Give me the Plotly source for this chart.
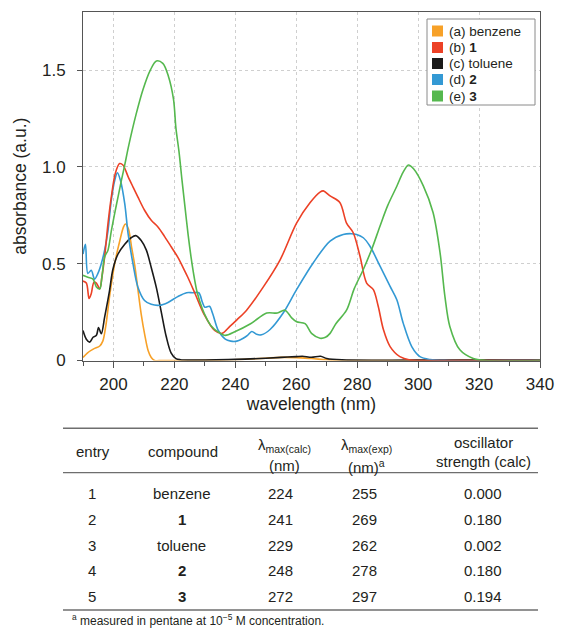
import plotly.graph_objects as go

# ---------------- data ----------------
benzene_wl = [190, 191.5, 193.5, 195.5, 196.5, 197.5, 198.8, 200.4, 202.1, 203.3, 203.9, 204.9, 206, 207,
              208, 209.1, 210.3, 211.4, 212.4, 213.5, 216, 225, 235, 245, 250, 255, 260, 265, 270, 275, 300, 340]
benzene_abs = [0.015, 0.04, 0.06, 0.075, 0.10, 0.18, 0.34, 0.50, 0.62, 0.69, 0.705, 0.68, 0.58, 0.49,
               0.37, 0.24, 0.13, 0.05, 0.015, 0.0, 0.0, 0.0, 0.002, 0.008, 0.012, 0.016, 0.015, 0.01, 0.004, 0.0, 0.0, 0.0]

cmpd1_wl = [190, 191.1, 192, 192.7, 193.6, 194.4, 195.5, 196.2, 197.1, 198.2, 199.3, 200.6, 202, 203.1, 204.8,
            206.4, 208, 210.2, 212.4, 214.6, 216.8, 219, 221.1, 223.3, 224.4, 226.8, 229.7, 233.2, 235.6, 238.2,
            240.5, 243.7, 249.2, 254.7, 260.1, 264.5, 267.8, 268.9, 271.1, 274.3, 276.5, 278.7, 280.9, 283.1,
            285.3, 286.9, 288.6, 290.8, 294, 297.3, 310, 340]
cmpd1_abs = [0.41, 0.40, 0.32, 0.345, 0.405, 0.40, 0.37, 0.43, 0.535, 0.707, 0.845, 0.966, 1.017, 1.01, 0.95,
             0.897, 0.845, 0.776, 0.724, 0.69, 0.64, 0.586, 0.534, 0.466, 0.43, 0.345, 0.24, 0.155, 0.14, 0.176,
             0.21, 0.26, 0.38, 0.52, 0.71, 0.815, 0.87, 0.876, 0.85, 0.816, 0.71, 0.66, 0.54, 0.40,
             0.366, 0.28, 0.16, 0.072, 0.02, 0.003, 0.0, 0.0]

toluene_wl = [190, 191.1, 192.2, 193.3, 194.4, 195.1, 196, 197.1, 198.7, 199.8, 201.5, 203.7, 205.8, 207.3,
              209.1, 210.8, 212.4, 214.1, 215.7, 217.3, 218.9, 220.5, 222, 225, 240, 250, 255, 260, 262, 265,
              268, 270, 275, 300, 340]
toluene_abs = [0.155, 0.11, 0.095, 0.12, 0.13, 0.17, 0.138, 0.224, 0.36, 0.47, 0.55, 0.60, 0.634, 0.645,
               0.62, 0.57, 0.48, 0.375, 0.25, 0.125, 0.04, 0.01, 0.004, 0.002, 0.006, 0.012, 0.016, 0.02, 0.022, 0.017,
               0.022, 0.01, 0.003, 0.002, 0.002]

cmpd2_wl = [190, 190.8, 191.6, 192.7, 193.8, 194.9, 196, 197.1, 198.2, 199.3, 200.4, 201.3, 202.3, 203.7,
            204.8, 206.4, 208, 210.2, 212.4, 215.1, 217.9, 221.1, 224, 226, 228, 229.2, 230, 231.5, 232.6,
            234.4, 236.7, 238.5, 240.5, 242.6, 244, 245.4, 247, 248.6, 251.4, 255.7, 260.1, 265.6, 271.1,
            275.4, 278, 279.8, 282, 284.2, 287.5, 290.8, 293, 295.1, 297.9, 300.6, 303.9, 310, 340]
cmpd2_abs = [0.55, 0.60, 0.45, 0.466, 0.42, 0.45, 0.50, 0.57, 0.67, 0.83, 0.93, 0.97, 0.93, 0.81,
             0.655, 0.50, 0.38, 0.31, 0.29, 0.285, 0.30, 0.33, 0.35, 0.35, 0.35, 0.30, 0.275, 0.28, 0.24,
             0.155, 0.11, 0.10, 0.10, 0.115, 0.13, 0.15, 0.135, 0.133, 0.16, 0.245, 0.366, 0.505, 0.617,
             0.651, 0.655, 0.651, 0.634, 0.59, 0.487, 0.383, 0.314, 0.193, 0.072, 0.02, 0.005, 0.0, 0.0]

cmpd3_wl = [190, 191.6, 193.3, 194.4, 195.5, 196.2, 197.1, 198.2, 199.3, 200.4, 201.5, 202.6, 203.7, 205,
            207.4, 209.7, 212.1, 214.1, 216.2, 218, 219.7, 220.5, 221.5, 222.5, 223.5, 224.5, 225.5, 226.5,
            227.5, 229.1, 230.5, 232, 234.4, 236.7, 240, 245, 250.3, 253.8, 256.3, 258.5, 260.1, 262.9, 265,
            267.8, 269.6, 271.1, 273, 276.5, 279, 282, 284.9, 287.5, 290, 293, 295, 296.8, 298.5, 301.7,
            304.9, 307.2, 308.8, 310.4, 313.7, 318.1, 322, 340]
cmpd3_abs = [0.44, 0.43, 0.42, 0.38, 0.37, 0.43, 0.535, 0.57, 0.67, 0.76, 0.845, 0.93, 1.01, 1.11,
             1.27, 1.40, 1.50, 1.547, 1.535, 1.47, 1.35, 1.20, 1.08, 0.93, 0.79, 0.65, 0.53, 0.43,
             0.35, 0.27, 0.22, 0.18, 0.147, 0.13, 0.15, 0.19, 0.245, 0.245, 0.26, 0.22, 0.20, 0.19, 0.14,
             0.115, 0.12, 0.14, 0.19, 0.26, 0.37, 0.47, 0.58, 0.695, 0.80, 0.90, 0.97, 1.01, 0.99, 0.902,
             0.764, 0.556, 0.33, 0.176, 0.055, 0.01, 0.0, 0.0]

series_names = ["(a) benzene", "(b) <b>1</b>", "(c) toluene", "(d) <b>2</b>", "(e) <b>3</b>"]
series_colors = ["#F7A128", "#EC4126", "#1A1A1A", "#3399D4", "#55B84E"]

x_ticks = [200, 220, 240, 260, 280, 300, 320, 340]
y_ticks = [0, 0.5, 1.0, 1.5]
y_ticktext = ["0", "0.5", "1.0", "1.5"]

# header: two text lines per column
table_header_top = ["entry", "compound", "λ<sub>max(calc)</sub>", "λ<sub>max(exp)</sub>", "oscillator"]
table_header_bot = ["", "", "(nm)", "(nm)<sup>a</sup>", "strength (calc)"]
table_entry = ["1", "2", "3", "4", "5"]
table_compound = ["benzene", "<b>1</b>", "toluene", "<b>2</b>", "<b>3</b>"]
table_calc = ["224", "241", "229", "248", "272"]
table_exp = ["255", "269", "262", "278", "297"]
table_osc = ["0.000", "0.180", "0.002", "0.180", "0.194"]
footnote = "<sup>a</sup> measured in pentane at 10<sup>−5</sup> M concentration."

# ---------------- figure ----------------
W, H = 561, 628
ML, MR, MT, MB = 83, 21, 12, 0
PW, PH = W - ML - MR, H - MT - MB
plot_bottom = 360.5


def px(x):
    return (x - ML) / PW


def py(y):
    return (H - MB - y) / PH


FONT = "Liberation Sans, Arial, Helvetica, sans-serif"
TXT = "#231f20"

fig = go.Figure()
all_wl = [benzene_wl, cmpd1_wl, toluene_wl, cmpd2_wl, cmpd3_wl]
all_abs = [benzene_abs, cmpd1_abs, toluene_abs, cmpd2_abs, cmpd3_abs]
order = [0, 2, 3, 1, 4]
for i in order:
    fig.add_trace(go.Scatter(x=all_wl[i], y=all_abs[i], mode="lines", name=series_names[i],
                             line=dict(color=series_colors[i], width=1.6, shape="spline", smoothing=0.9),
                             showlegend=False, hoverinfo="x+y"))

fig.update_layout(
    width=W, height=H, margin=dict(l=ML, r=MR, t=MT, b=MB, autoexpand=False),
    paper_bgcolor="white", plot_bgcolor="white",
    font=dict(family=FONT, color=TXT, size=17),
    showlegend=False,
    xaxis=dict(range=[190, 340], tickvals=x_ticks, ticks="outside", ticklen=6, tickcolor="#555",
               showline=True, linecolor="#555", linewidth=1, mirror=True,
               showgrid=True, gridcolor="#cfcfcf", griddash="dot", gridwidth=1, zeroline=False,
               tickfont=dict(size=17), ticklabelstandoff=2,
               minor=dict(dtick=10, tick0=190, ticks="outside", ticklen=4, tickcolor="#555", showgrid=False),
               title=dict(text="wavelength (nm)", font=dict(size=17.5), standoff=2)),
    yaxis=dict(range=[0, 1.8], tickvals=y_ticks, ticktext=y_ticktext, ticks="outside", ticklen=5,
               tickcolor="#555", showline=True, linecolor="#555", linewidth=1, mirror=True,
               showgrid=True, gridcolor="#cfcfcf", griddash="dot", gridwidth=1, zeroline=False,
               tickfont=dict(size=17), ticklabelstandoff=8,
               domain=[py(plot_bottom), 1],
               title=dict(text="absorbance (a.u.)", font=dict(size=17.5), standoff=10)),
)

shapes = []
annotations = []

# legend box
LX0, LX1, LY0, LY1 = 427, 535, 19, 105
shapes.append(dict(type="rect", xref="paper", yref="paper", x0=px(LX0), x1=px(LX1), y0=py(LY1), y1=py(LY0),
                   line=dict(color="#8a8a8a", width=1), fillcolor="white", layer="above"))
leg_y = [31, 47.5, 63.5, 79.5, 96]
for i in range(5):
    yc = leg_y[i]
    shapes.append(dict(type="rect", xref="paper", yref="paper", x0=px(432), x1=px(443),
                       y0=py(yc + 5.5), y1=py(yc - 5.5), line=dict(width=0),
                       fillcolor=series_colors[i], layer="above"))
    annotations.append(dict(text=series_names[i], xref="paper", yref="paper", x=px(447), y=py(yc),
                            xanchor="left", yanchor="middle", showarrow=False, font=dict(size=13.5, color=TXT)))

# table rules
TX0, TX1 = 63, 538
for yy, wdt in [(428.3, 1.6), (472.7, 1.2), (610, 1.6)]:
    shapes.append(dict(type="line", xref="paper", yref="paper", x0=px(TX0), x1=px(TX1), y0=py(yy), y1=py(yy),
                       line=dict(color="#6e6e6e", width=wdt)))

col_x_head = [93.3, 183.3, 284, 366.7, 483.3]
col_x_body = [91.7, 181.7, 280, 364, 482.7]
split_y = [0, 0, 455.5, 455.5, 451.5]
for j in range(5):
    if table_header_bot[j]:
        annotations.append(dict(text=table_header_top[j], xref="paper", yref="paper", x=px(col_x_head[j]),
                                y=py(split_y[j]), xanchor="center", yanchor="bottom", showarrow=False,
                                borderpad=0, font=dict(size=15, color=TXT)))
        annotations.append(dict(text=table_header_bot[j], xref="paper", yref="paper", x=px(col_x_head[j]),
                                y=py(split_y[j] + 0.5), xanchor="center", yanchor="top", showarrow=False,
                                borderpad=0, font=dict(size=15, color=TXT)))
    else:
        annotations.append(dict(text=table_header_top[j], xref="paper", yref="paper", x=px(col_x_head[j]),
                                y=py(451.7), xanchor="center", yanchor="middle", showarrow=False,
                                font=dict(size=15, color=TXT)))
row_y = [493.3, 519, 545, 570.7, 596]
cols = [table_entry, table_compound, table_calc, table_exp, table_osc]
for r in range(5):
    for j in range(5):
        annotations.append(dict(text=cols[j][r], xref="paper", yref="paper", x=px(col_x_body[j]),
                                y=py(row_y[r]), xanchor="center", yanchor="middle", showarrow=False,
                                font=dict(size=15, color=TXT)))

annotations.append(dict(text=footnote, xref="paper", yref="paper", x=px(70), y=py(620), xanchor="left",
                        yanchor="middle", showarrow=False, font=dict(size=12, color=TXT)))

fig.update_layout(shapes=shapes, annotations=annotations)
fig.write_html("out.html", config={"displayModeBar": False},
               post_script="document.body.style.margin='0px';document.body.style.padding='0px';")
